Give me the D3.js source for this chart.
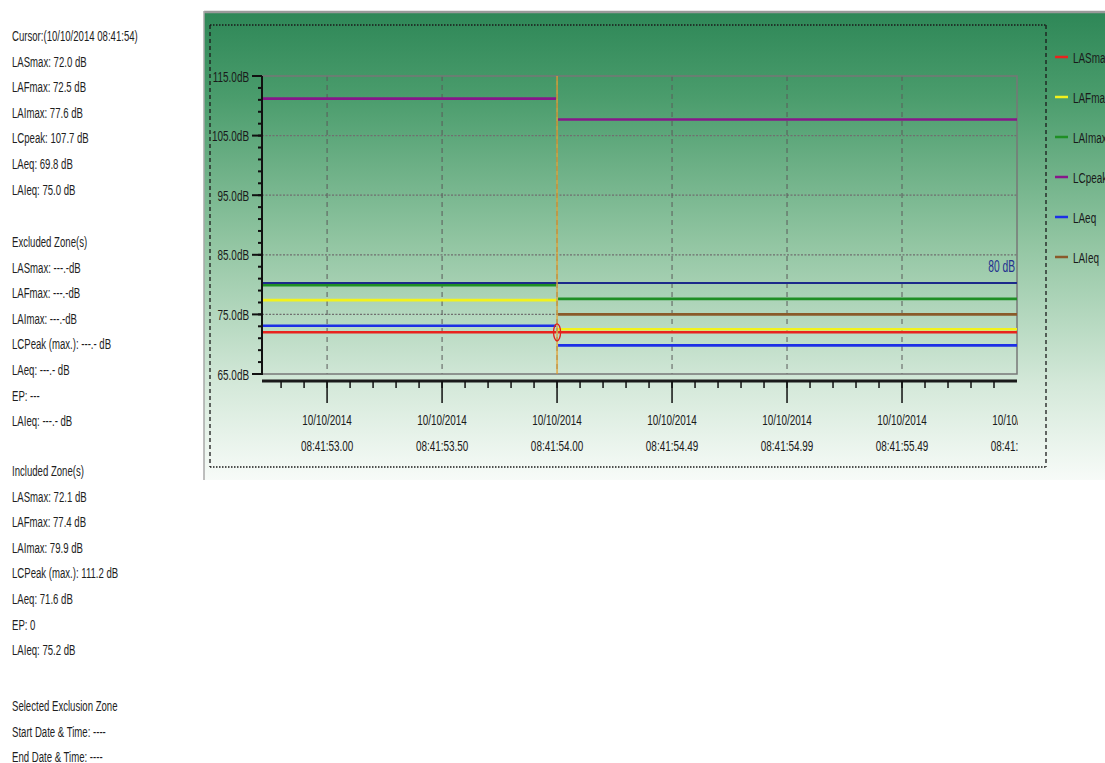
<!DOCTYPE html>
<html>
<head>
<meta charset="utf-8">
<script src="https://cdn.jsdelivr.net/npm/d3@7"></script>
<style>
  body { margin: 0; background: #fff; }
  text { font-family: "Liberation Sans", Arial, sans-serif; }
</style>
</head>
<body>
<div id="chart"></div>
<script>
// series & values (dB)
const seriesNames = ["LASmax", "LAFmax", "LAImax", "LCpeak", "LAeq", "LAIeq"];
const seriesColors = ["#e8231e", "#f2f21c", "#1f8f25", "#87178a", "#1d2fe6", "#8a5a2a"];
// two intervals: seconds after 08:41
const segStart = [52.717, 54.0];
const segEnd   = [54.0, 56.0];
const seg1Values = [72.0, 77.4, 79.9, 111.2, 73.1, null];
const seg2Values = [72.0, 72.5, 77.6, 107.7, 69.8, 75.0];
const thresholdDb = 80;
const cursorTime = 54.0;

const yTicks = [65, 75, 85, 95, 105, 115];
const xTicks = [53.0, 53.5, 54.0, 54.5, 55.0, 55.5, 56.0];
const xTickLabels = ["08:41:53.00", "08:41:53.50", "08:41:54.00", "08:41:54.49", "08:41:54.99", "08:41:55.49", "08:41:55.99"];
const dateLabel = "10/10/2014";

const sideText = [
  ["Cursor:(10/10/2014 08:41:54)", "LASmax: 72.0 dB", "LAFmax: 72.5 dB", "LAImax: 77.6 dB", "LCpeak: 107.7 dB", "LAeq: 69.8 dB", "LAIeq: 75.0 dB"],
  ["Excluded Zone(s)", "LASmax: ---.-dB", "LAFmax: ---.-dB", "LAImax: ---.-dB", "LCPeak (max.): ---.- dB", "LAeq: ---.- dB", "EP: ---", "LAIeq: ---.- dB"],
  ["Included Zone(s)", "LASmax: 72.1 dB", "LAFmax: 77.4 dB", "LAImax: 79.9 dB", "LCPeak (max.): 111.2 dB", "LAeq: 71.6 dB", "EP: 0", "LAIeq: 75.2 dB"],
  ["Selected Exclusion Zone", "Start Date & Time: ----", "End Date & Time: ----"]
];
const sideTop = [36, 242, 471, 706];

const width = 1105, height = 763;
const px0 = 262, px1 = 1017, py0 = 76, py1 = 374;
const narrow = 0.64;

const svg = d3.select("#chart").append("svg")
  .attr("width", width).attr("height", height);

const defs = svg.append("defs");
const grad = defs.append("linearGradient").attr("id", "bg")
  .attr("x1", 0).attr("y1", 0).attr("x2", 0).attr("y2", 1);
grad.append("stop").attr("offset", "0%").attr("stop-color", "#2e8757");
grad.append("stop").attr("offset", "18%").attr("stop-color", "#4a9c6c");
grad.append("stop").attr("offset", "50%").attr("stop-color", "#93c6a3");
grad.append("stop").attr("offset", "80%").attr("stop-color", "#d5e9da");
grad.append("stop").attr("offset", "100%").attr("stop-color", "#f7fbf8");
defs.append("clipPath").attr("id", "plotclip")
  .append("rect").attr("x", px0).attr("y", 0).attr("width", px1 - px0 + 1).attr("height", height);

function ntext(g, x, y, str, anchor) {
  return g.append("text")
    .attr("transform", `translate(${x},${y}) scale(${narrow},1)`)
    .attr("text-anchor", anchor || "start")
    .text(str);
}

// LEFT INFO PANEL
const side = svg.append("g").style("font-size", "15px").style("fill", "#1e1e1e");
sideText.forEach((block, bi) => {
  block.forEach((line, li) => {
    ntext(side, 12, sideTop[bi] + li * 25.6 + 5, line);
  });
});

// CHART PANEL
svg.append("rect").attr("x", 204).attr("y", 12).attr("width", width - 204).attr("height", 468)
  .attr("fill", "url(#bg)");
svg.append("line").attr("x1", 204).attr("x2", width).attr("y1", 12).attr("y2", 12)
  .style("stroke", "#9a9a9a").style("stroke-width", 2.5);
svg.append("line").attr("x1", 204).attr("x2", 204).attr("y1", 11).attr("y2", 480)
  .style("stroke", "#a8a8a8").style("stroke-width", 1.5);

// dotted frame
svg.append("path")
  .attr("d", `M210,25H1046M210,467H1046`)
  .style("fill", "none").style("stroke", "#1a1a1a").style("stroke-width", 1.3)
  .style("stroke-dasharray", "1.5,1.5");
svg.append("path")
  .attr("d", `M210,25V467M1046,25V467`)
  .style("fill", "none").style("stroke", "#1a1a1a").style("stroke-width", 1.3)
  .style("stroke-dasharray", "4,3");

// SCALES
const x = d3.scaleLinear().domain([segStart[0], segEnd[1]]).range([px0, px1]);
const y = d3.scaleLinear().domain([65, 115]).range([py1, py0]);

// GRIDLINES
svg.append("g").selectAll("line").data(yTicks.filter(d => d > 65 && d < 115)).join("line")
  .attr("x1", px0).attr("x2", px1).attr("y1", d => y(d)).attr("y2", d => y(d))
  .style("stroke", "#6f6f6f").style("stroke-width", 1.2).style("stroke-dasharray", "2,1.5");
svg.append("g").selectAll("line").data(xTicks.filter(d => x(d) < px1 - 2)).join("line")
  .attr("x1", d => x(d)).attr("x2", d => x(d)).attr("y1", py0).attr("y2", py1)
  .style("stroke", "#5a5a5a").style("stroke-width", 1).style("stroke-dasharray", "5,4");

// plot border
svg.append("rect").attr("x", px0).attr("y", py0).attr("width", px1 - px0).attr("height", py1 - py0)
  .style("fill", "none").style("stroke", "#777").style("stroke-width", 1.5);

// threshold line
svg.append("line")
  .attr("x1", px0).attr("x2", px1).attr("y1", y(thresholdDb) - 1.5).attr("y2", y(thresholdDb) - 1.5)
  .style("stroke", "#1c2a8a").style("stroke-width", 2);
ntext(svg.append("g").style("font-size", "16px").style("fill", "#23308f"), px1 - 2, y(thresholdDb) - 13, thresholdDb + " dB", "end");

// SERIES STEPS
const segs = [seg1Values, seg2Values];
const drawOrder = [5, 3, 2, 4, 0, 1];
drawOrder.forEach(si => {
  segs.forEach((vals, k) => {
    const v = vals[si];
    if (v == null) return;
    svg.append("line")
      .attr("x1", x(segStart[k]) + (k ? 1 : 0)).attr("x2", x(segEnd[k]) - (k ? 0 : 1))
      .attr("y1", y(v)).attr("y2", y(v))
      .style("stroke", seriesColors[si]).style("stroke-width", 2.6);
  });
});

// cursor
svg.append("line").attr("x1", x(cursorTime)).attr("x2", x(cursorTime)).attr("y1", py0).attr("y2", py1)
  .style("stroke", "#e5a233").style("stroke-width", 1.3);
svg.append("ellipse").attr("cx", x(cursorTime)).attr("cy", y(seg2Values[0]))
  .attr("rx", 3.5).attr("ry", 8.5)
  .style("fill", "none").style("stroke", "#e3201b").style("stroke-width", 1.3);

// Y AXIS
const yAxis = svg.append("g");
yAxis.append("line").attr("x1", px0).attr("x2", px0).attr("y1", py0).attr("y2", py1 + 1)
  .style("stroke", "#111").style("stroke-width", 2);
yAxis.selectAll(".ymin").data(d3.range(65, 115.1, 2)).join("line")
  .attr("x1", px0 - 4).attr("x2", px0).attr("y1", d => y(d)).attr("y2", d => y(d))
  .style("stroke", "#111").style("stroke-width", 2);
yAxis.selectAll(".ymaj").data(yTicks).join("line")
  .attr("x1", px0 - 10).attr("x2", px0).attr("y1", d => y(d)).attr("y2", d => y(d))
  .style("stroke", "#111").style("stroke-width", 2);
const yLab = yAxis.append("g").style("font-size", "15.5px").style("fill", "#1a1a1a");
yTicks.forEach(d => ntext(yLab, 249, y(d) + 5.5, d.toFixed(1) + "dB", "end"));

// X AXIS
const xAxis = svg.append("g");
const xAxisY = 381;
xAxis.append("line").attr("x1", px0).attr("x2", px1).attr("y1", xAxisY).attr("y2", xAxisY)
  .style("stroke", "#1a1a1a").style("stroke-width", 3);
xAxis.selectAll(".xmin").data(d3.range(53.0, 56.0, 0.1).concat([52.8, 52.9]).filter(d => x(d) > px0 + 3)).join("line")
  .attr("x1", d => x(d)).attr("x2", d => x(d)).attr("y1", xAxisY).attr("y2", xAxisY + 7)
  .style("stroke", "#111").style("stroke-width", 1.5);
xAxis.selectAll(".xmaj").data(xTicks.filter(d => x(d) < px1 - 2)).join("line")
  .attr("x1", d => x(d)).attr("x2", d => x(d)).attr("y1", xAxisY).attr("y2", xAxisY + 22)
  .style("stroke", "#111").style("stroke-width", 1.5);
const xLab = xAxis.append("g").attr("clip-path", "url(#plotclip)")
  .style("font-size", "15.5px").style("fill", "#1a1a1a");
xTicks.forEach((d, i) => {
  ntext(xLab, x(d), 425, dateLabel, "middle");
  ntext(xLab, x(d), 451, xTickLabels[i], "middle");
});

// LEGEND
const legend = svg.append("g").style("font-size", "15.5px").style("fill", "#1a1a1a");
seriesNames.forEach((name, i) => {
  const ly = 57 + i * 40;
  legend.append("line").attr("x1", 1055).attr("x2", 1068).attr("y1", ly).attr("y2", ly)
    .style("stroke", seriesColors[i]).style("stroke-width", 2.5);
  ntext(legend, 1073, ly + 5.5, name);
});
</script>
</body>
</html>
